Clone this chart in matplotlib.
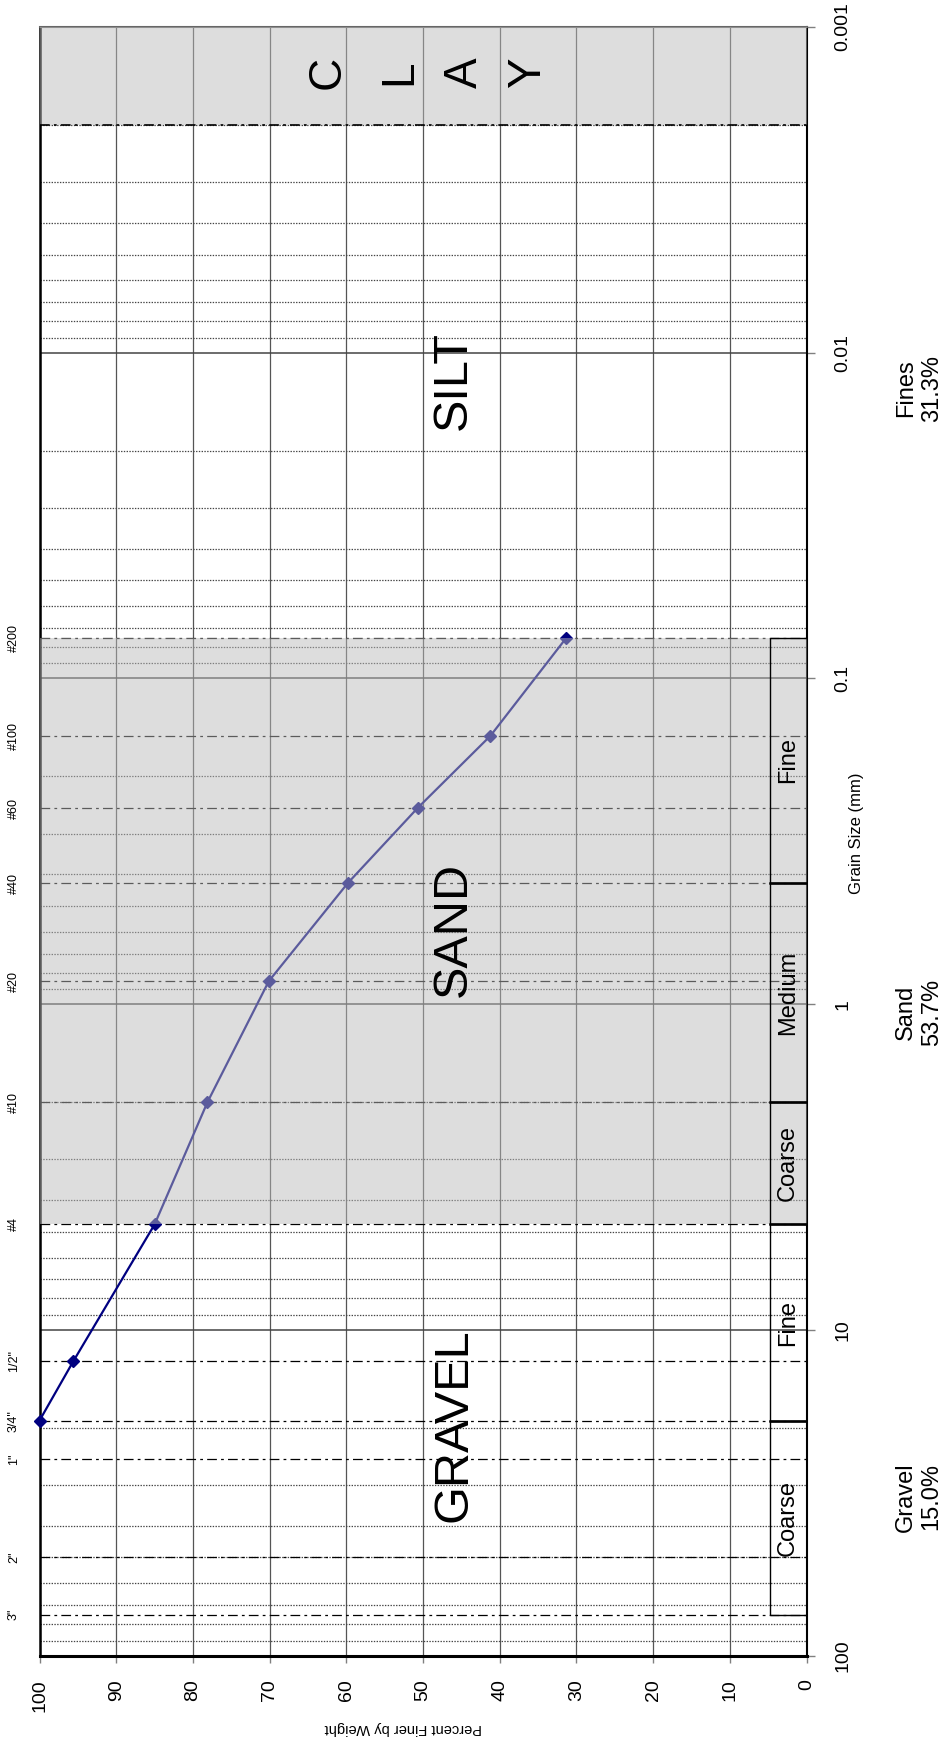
import matplotlib.pyplot as plt
import numpy as np
from matplotlib import ticker
from matplotlib.patches import Rectangle
from matplotlib.transforms import blended_transform_factory

plt.rcParams['font.family'] = ['Liberation Sans', 'DejaVu Sans']
plt.rcParams['lines.scale_dashes'] = False

# sieve openings (mm) and their names
sieve_names = ['3"', '2"', '1"', '3/4"', '1/2"', '#4', '#10', '#20', '#40', '#60', '#100', '#200']
sieve_mm = [75, 50, 25, 19, 12.5, 4.75, 2.0, 0.85, 0.425, 0.25, 0.15, 0.075]

# test result
test_mm = [19, 12.5, 4.75, 2.0, 0.85, 0.425, 0.25, 0.15, 0.075]
pct_finer = [100, 95.6, 85.0, 78.1, 70.1, 59.8, 50.7, 41.2, 31.3]

# soil zones
sand_range = (0.075, 4.75)
clay_range = (0.001, 0.002)
zone_names = ['GRAVEL', 'SAND', 'SILT']
zone_label_mm = [19.6, 0.59, 0.0122]
clay_letters = ['C', 'L', 'A', 'Y']
clay_letter_pct = [62.5, 53.1, 44.6, 36.3]

# coarse / medium / fine sub-classes
sub_names = ['Coarse', 'Fine', 'Coarse', 'Medium', 'Fine']
sub_bounds = [75, 19, 4.75, 2.0, 0.425, 0.075]

# fractions
fraction_names = ['Gravel', 'Sand', 'Fines']
fraction_pct = [15.0, 53.7, 31.3]

W, H = 943, 1754
fig = plt.figure(figsize=(W / 100, H / 100), dpi=100)
ax = fig.add_axes([39.5 / W, 1 - 1655.5 / H, 767 / W, 1628.5 / H])

ax.set_yscale('log')
ax.set_ylim(100, 0.001)
ax.set_xlim(100, 0)

ax.xaxis.set_major_locator(ticker.MultipleLocator(10))
ax.xaxis.set_major_formatter(ticker.FuncFormatter(lambda v, p: f'{v:.0f}'))
ax.yaxis.set_major_locator(ticker.LogLocator(base=10, numticks=10))
ax.yaxis.set_minor_locator(ticker.LogLocator(base=10, subs=np.arange(2, 10), numticks=20))
ax.yaxis.set_major_formatter(ticker.FuncFormatter(lambda v, p: f'{v:g}'))
ax.yaxis.set_minor_formatter(ticker.NullFormatter())
ax.yaxis.tick_right()

ax.set_axisbelow(True)
ax.grid(axis='x', which='major', color='#555555', lw=0.9)
ax.grid(axis='y', which='major', color='#444444', lw=1.1)
ax.grid(axis='y', which='minor', color='#444444', lw=0.9, ls=(0, (1, 1)))

ax.tick_params(axis='x', length=5, width=1, color='#808080', labelsize=14,
               labelrotation=90, pad=12)
ax.tick_params(axis='y', which='major', length=6, width=1, color='#808080',
               labelsize=14, labelrotation=90, pad=14)
ax.tick_params(axis='y', which='minor', length=0)
plt.setp(ax.get_yticklabels(), va='center')

ax.spines['left'].set_linewidth(1.8)
ax.spines['bottom'].set_linewidth(2.2)
ax.spines['right'].set_linewidth(1.5)
ax.spines['top'].set_linewidth(1.5)
ax.spines['top'].set_color('#666666')

# sieve lines
dashdot = (0, (7, 3, 2, 3))
for s in sieve_mm:
    ax.axhline(s, color='black', lw=0.9, ls=dashdot, zorder=1.5)
ax.axhline(clay_range[1], color='black', lw=1.2, ls=dashdot, zorder=5)

# gradation curve
ax.plot(pct_finer, test_mm, color='#000080', lw=1.6, marker='D', ms=6.5,
        zorder=3, clip_on=False)

# shaded zones
shade = (0.733, 0.733, 0.733)
ax.axhspan(*sand_range, color=shade, alpha=0.49, lw=0, zorder=4)
ax.axhspan(*clay_range, color=shade, alpha=0.49, lw=0, zorder=4)

# sub-class boxes
box_w = 4.8
for name, hi, lo in zip(sub_names, sub_bounds[:-1], sub_bounds[1:]):
    ax.add_patch(Rectangle((0, lo), box_w, hi - lo, fill=False, ec='black',
                           lw=1.0, zorder=5))
    ax.text(box_w / 2, np.sqrt(hi * lo), name, rotation=90, ha='center',
            va='center', fontsize=17, zorder=6)
for b in sub_bounds[1:-1]:
    ax.plot([0, box_w], [b, b], color='black', lw=1.8, zorder=5)

# zone names
for name, y in zip(zone_names, zone_label_mm):
    ax.text(46, y, name, rotation=90, ha='center', va='center', fontsize=35,
            zorder=6)
for ch, x in zip(clay_letters, clay_letter_pct):
    ax.text(x, 0.00138, ch, rotation=90, ha='center', va='center',
            fontsize=33, zorder=6)

# sieve names along the left edge
trans = blended_transform_factory(fig.transFigure, ax.transData)
for name, s in zip(sieve_names, sieve_mm):
    ax.text(14 / W, s, name, transform=trans, rotation=90, ha='center',
            va='center', fontsize=9)

# fraction summary
fraction_y = [1497, 1012, 388]
for name, pct, y in zip(fraction_names, fraction_pct, fraction_y):
    fig.text(919 / W, 1 - y / H, f'{name}\n{pct:.1f}%', rotation=90,
             ha='center', va='center', fontsize=17, linespacing=1.2)

fig.text(856 / W, 1 - 833 / H, 'Grain Size (mm)', rotation=90, ha='center',
         va='center', fontsize=12)
fig.text(403 / W, 1 - 1728 / H, 'Percent Finer by Weight', rotation=180,
         ha='center', va='center', fontsize=10.5)

fig.savefig('out.png', dpi=100)
